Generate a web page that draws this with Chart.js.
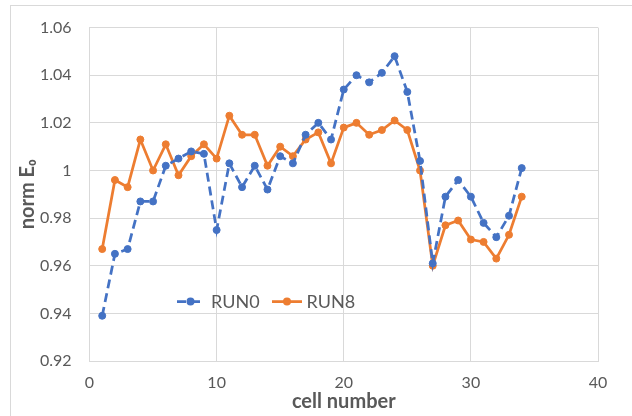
<!DOCTYPE html>
<html><head><meta charset="utf-8">
<script src="https://cdn.jsdelivr.net/npm/chart.js@4.4.0/dist/chart.umd.min.js"></script>
<style>
html,body{margin:0;padding:0;background:#fff;}
#wrap{position:relative;width:632px;height:416px;overflow:hidden;background:#fff;}
#frame{position:absolute;left:10px;top:5px;width:700px;height:500px;border:1px solid #d9d9d9;}
canvas{position:absolute;left:0;top:0;}
</style></head><body>
<div id="wrap"><div id="frame"></div><canvas id="c" width="632" height="416"></canvas></div>
<script>
const cells = [1,2,3,4,5,6,7,8,9,10,11,12,13,14,15,16,17,18,19,20,21,22,23,24,25,26,27,28,29,30,31,32,33,34];
const run0 = [0.939,0.965,0.967,0.987,0.987,1.002,1.005,1.008,1.007,0.975,1.003,0.993,1.002,0.992,1.006,1.003,1.015,1.020,1.013,1.034,1.040,1.037,1.041,1.048,1.033,1.004,0.961,0.989,0.996,0.989,0.978,0.972,0.981,1.001];
const run8 = [0.967,0.996,0.993,1.013,1.000,1.011,0.998,1.006,1.011,1.005,1.023,1.015,1.015,1.002,1.010,1.006,1.013,1.016,1.003,1.018,1.020,1.015,1.017,1.021,1.017,1.000,0.960,0.977,0.979,0.971,0.970,0.963,0.973,0.989];
const seriesNames = ['RUN0','RUN8'];
const seriesColors = ['#4472C4','#ED7D31'];
const yTickValues = [0.92,0.94,0.96,0.98,1.00,1.02,1.04,1.06];
const yTickLabels = ['0.92','0.94','0.96','0.98','1','1.02','1.04','1.06'];
const xTickValues = [0,10,20,30,40];
const xTickLabels = ['0','10','20','30','40'];
const xTitle = 'cell number';
const yTitle = 'norm E\u2080';

const TXT = '#595959';
const GRID = '#d9d9d9';
const FONT = 'Lato, "Open Sans", sans-serif';

const legendPlugin = {
  id: 'inlineLegend',
  afterDatasetsDraw(chart) {
    const ctx = chart.ctx, ca = chart.chartArea;
    const y = ca.top + 274;
    const items = [
      {x0: ca.left + 87.5, x1: ca.left + 114.5, tx: ca.left + 121.5},
      {x0: ca.left + 182.5, x1: ca.left + 212.5, tx: ca.left + 217}
    ];
    ctx.save();
    chart.data.datasets.forEach((ds, i) => {
      const it = items[i];
      ctx.strokeStyle = ds.borderColor;
      ctx.lineWidth = ds.borderWidth;
      ctx.setLineDash(ds.borderDash || []);
      ctx.beginPath(); ctx.moveTo(it.x0, y); ctx.lineTo(it.x1, y); ctx.stroke();
      ctx.setLineDash([]);
      ctx.fillStyle = ds.borderColor;
      ctx.beginPath(); ctx.arc((it.x0 + it.x1) / 2, y, ds.pointRadius + 0.5, 0, Math.PI * 2); ctx.fill();
      ctx.fillStyle = TXT;
      ctx.font = '18px ' + FONT;
      ctx.textBaseline = 'middle';
      ctx.textAlign = 'left';
      ctx.fillText(ds.label, it.tx, y + 1);
    });
    ctx.restore();
  }
};

const datasets = [run0, run8].map((vals, i) => ({
  label: seriesNames[i],
  data: cells.map((c, k) => ({x: c, y: vals[k]})),
  borderColor: seriesColors[i],
  backgroundColor: seriesColors[i],
  pointBackgroundColor: seriesColors[i],
  pointBorderColor: seriesColors[i],
  pointBorderWidth: 1,
  pointRadius: 3.5,
  borderWidth: 2.75,
  borderDash: i === 0 ? [9, 5] : [],
  tension: 0,
  clip: false
}));

new Chart(document.getElementById('c'), {
  type: 'line',
  data: {datasets},
  options: {
    responsive: false,
    devicePixelRatio: 1,
    animation: false,
    layout: {padding: {left: 0, right: 34, top: 24, bottom: 0}},
    plugins: {legend: {display: false}, tooltip: {enabled: false}},
    scales: {
      x: {
        type: 'linear', min: 0, max: 40,
        afterBuildTicks: s => { s.ticks = xTickValues.map(v => ({value: v})); },
        afterFit: s => { s.height = 55; },
        grid: {color: GRID, drawTicks: false, lineWidth: 1},
        border: {color: GRID},
        ticks: {color: TXT, font: {family: FONT, size: 16}, padding: 12,
          callback: (v, i) => xTickLabels[i]},
        title: {display: true, text: xTitle, color: TXT, font: {family: FONT, size: 20, weight: 'bold'}, padding: {top: 0, bottom: 2}}
      },
      y: {
        type: 'linear', min: 0.92, max: 1.06,
        afterBuildTicks: s => { s.ticks = yTickValues.map(v => ({value: v})); },
        afterFit: s => { s.width = 89.5; },
        grid: {color: GRID, drawTicks: false, lineWidth: 1},
        border: {color: GRID},
        ticks: {color: TXT, font: {family: FONT, size: 16}, padding: 18,
          callback: (v, i) => yTickLabels[i]},
        title: {display: true, text: yTitle, color: TXT, font: {family: FONT, size: 20, weight: 'bold'}, padding: {top: 16, bottom: 0}}
      }
    }
  },
  plugins: [legendPlugin]
});
</script>
</body></html>
